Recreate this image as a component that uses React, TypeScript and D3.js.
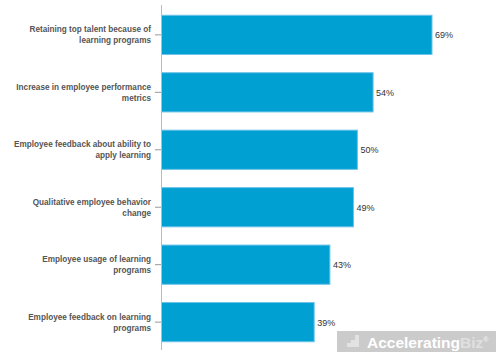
import React from "react";
import * as d3 from "d3";

const categories: string[][] = [
  ["Retaining top talent because of", "learning programs"],
  ["Increase in employee performance", "metrics"],
  ["Employee feedback about ability to", "apply learning"],
  ["Qualitative employee behavior", "change"],
  ["Employee usage of learning", "programs"],
  ["Employee feedback on learning", "programs"],
];
const values: number[] = [69, 54, 50, 49, 43, 39];

const W = 500;
const H = 357;

export default function App() {
  const x = d3.scaleLinear().domain([0, 69]).range([161, 432]);
  const y = d3
    .scaleBand<number>()
    .domain(d3.range(values.length))
    .range([5, 352])
    .paddingInner(0.3)
    .paddingOuter(0.17);
  const bw = y.bandwidth();
  return (
    <svg
      width={W}
      height={H}
      style={{ position: "absolute", left: 0, top: 0 }}
      fontFamily="Liberation Sans, Arial, sans-serif"
    >
      <rect width={W} height={H} fill="#fff" />
      {values.map((v, i) => {
        const y0 = y(i)!;
        const cy = y0 + bw / 2;
        return (
          <g key={i}>
            <rect
              x={x(0) + 0.5}
              y={y0 + 0.5}
              width={x(v) - x(0) - 0.5}
              height={bw - 1}
              fill="#00a0d3"
              stroke="#6cc2e8"
              strokeWidth={1}
            />
            <text x={x(v) + 3} y={cy + 3.5} fontSize={9} fill="#333">
              {v}%
            </text>
            <line x1={155} x2={161} y1={cy} y2={cy} stroke="#999" />
            {categories[i].map((t, j) => (
              <text
                key={j}
                x={151}
                y={cy + (j - (categories[i].length - 1) / 2) * 11 + 3}
                textAnchor="end"
                fontSize={8.2}
                fontWeight="bold"
                fill="#555"
              >
                {t}
              </text>
            ))}
          </g>
        );
      })}
      <line x1={161.5} x2={161.5} y1={5} y2={350} stroke="#bbb" />
      <g>
        <rect x={337} y={331} width={159} height={21} fill="#cbcbcb" />
        <path d="M347,347 L359,347 L359,335 L355,335 L355,340 L351,340 L351,343 L347,343 Z" fill="#e2e2e2" />
        <text x={367} y={347.5} fontSize={15.5} fontWeight="bold" fill="#fff">
          Accelerating
          <tspan fill="#e0e0e0">Biz</tspan>
          <tspan fontSize={7} dy={-6} fill="#eee">®</tspan>
        </text>
      </g>
    </svg>
  );
}
